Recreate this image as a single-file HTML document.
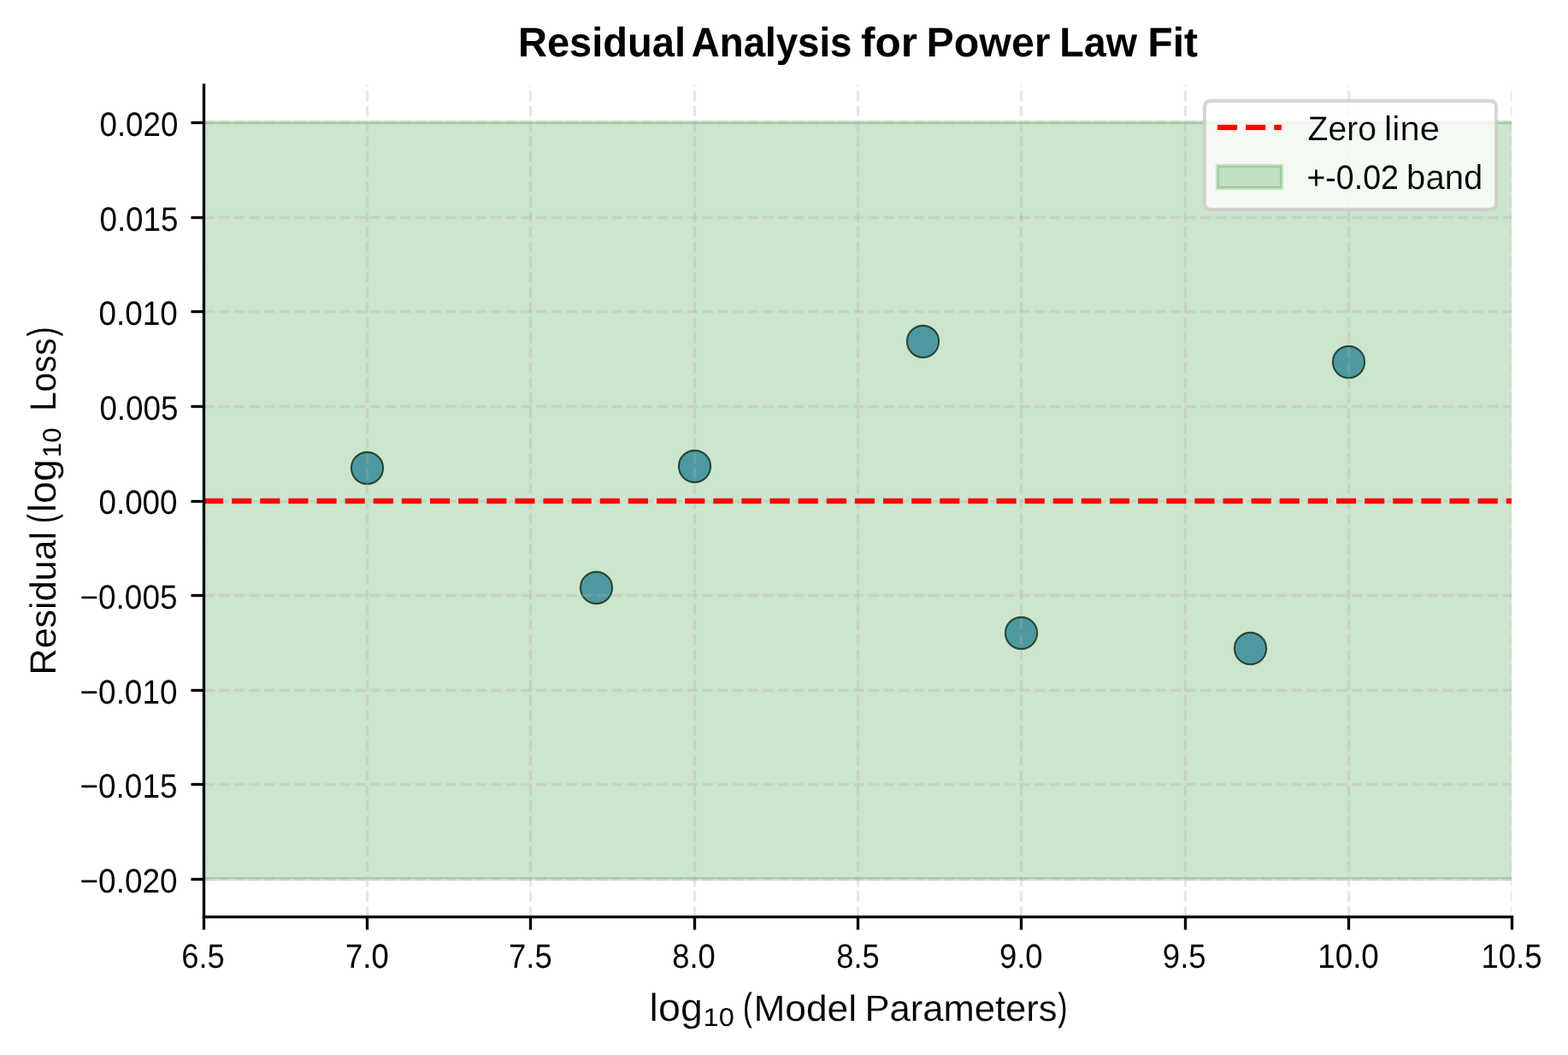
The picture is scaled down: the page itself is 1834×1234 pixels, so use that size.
<!DOCTYPE html>
<html lang="en">
<head>
<meta charset="utf-8">
<title>Residual Analysis for Power Law Fit</title>
<style>
html,body{margin:0;padding:0;background:#fff}
body{width:1834px;height:1234px;overflow:hidden}
svg{display:block}
text{font-family:"Liberation Sans",sans-serif;font-size:100px;font-kerning:none;text-rendering:geometricPrecision;fill:#000;white-space:pre;stroke-linejoin:round}
.grid{fill:none;stroke:#b0b0b0;stroke-opacity:.3;stroke-width:3.3333;stroke-dasharray:12.3333 5.3333}
.pt{fill:#1f76b4;fill-opacity:.7;stroke:#000;stroke-opacity:.7;stroke-width:2.0833}
.zero{fill:#f00}
.band{fill:#007c00;fill-opacity:.2;stroke:#007c00;stroke-opacity:.2;stroke-width:4.1667}
</style>
</head>
<body>
<svg width="1834" height="1234" viewBox="0 0 1834 1234" role="img" aria-label="Residual Analysis for Power Law Fit">
<defs><clipPath id="axclip"><rect x="238" y="99" width="1530" height="973"/></clipPath></defs>
<rect width="1834" height="1234" fill="#fff"/>
<g clip-path="url(#axclip)">
<g class="pt">
<circle cx="429.5" cy="547.5" r="18.6339"/>
<circle cx="697.5" cy="687.5" r="18.6339"/>
<circle cx="812.5" cy="545.5" r="18.6339"/>
<circle cx="1079.5" cy="399.5" r="18.6339"/>
<circle cx="1194.5" cy="740.5" r="18.6339"/>
<circle cx="1462.5" cy="758.5" r="18.6339"/>
<circle cx="1577.5" cy="423.5" r="18.6339"/>
</g>
<rect class="band" x="-100" y="143" width="2034" height="885"/>
<g class="grid">
<path d="M238.5 1072.5 V99.5"/>
<path d="M429.5 1072.5 V99.5"/>
<path d="M620.5 1072.5 V99.5"/>
<path d="M812.5 1072.5 V99.5"/>
<path d="M1003.5 1072.5 V99.5"/>
<path d="M1194.5 1072.5 V99.5"/>
<path d="M1386.5 1072.5 V99.5"/>
<path d="M1577.5 1072.5 V99.5"/>
<path d="M1768.5 1072.5 V99.5"/>
<path d="M238.5 1028.5 H1768.5"/>
<path d="M238.5 917.5 H1768.5"/>
<path d="M238.5 807.5 H1768.5"/>
<path d="M238.5 696.5 H1768.5"/>
<path d="M238.5 586.5 H1768.5"/>
<path d="M238.5 475.5 H1768.5"/>
<path d="M238.5 364.5 H1768.5"/>
<path d="M238.5 254.5 H1768.5"/>
<path d="M238.5 143.5 H1768.5"/>
</g>
<g class="zero">
<rect x="238" y="582.875" width="23.125" height="6.25"/>
<rect x="271.125" y="582.875" width="23.125" height="6.25"/>
<rect x="304.25" y="582.875" width="23.125" height="6.25"/>
<rect x="337.375" y="582.875" width="23.125" height="6.25"/>
<rect x="370.5" y="582.875" width="23.125" height="6.25"/>
<rect x="403.625" y="582.875" width="23.125" height="6.25"/>
<rect x="436.75" y="582.875" width="23.125" height="6.25"/>
<rect x="469.875" y="582.875" width="23.125" height="6.25"/>
<rect x="503" y="582.875" width="23.125" height="6.25"/>
<rect x="536.125" y="582.875" width="23.125" height="6.25"/>
<rect x="569.25" y="582.875" width="23.125" height="6.25"/>
<rect x="602.375" y="582.875" width="23.125" height="6.25"/>
<rect x="635.5" y="582.875" width="23.125" height="6.25"/>
<rect x="668.625" y="582.875" width="23.125" height="6.25"/>
<rect x="701.75" y="582.875" width="23.125" height="6.25"/>
<rect x="734.875" y="582.875" width="23.125" height="6.25"/>
<rect x="768" y="582.875" width="23.125" height="6.25"/>
<rect x="801.125" y="582.875" width="23.125" height="6.25"/>
<rect x="834.25" y="582.875" width="23.125" height="6.25"/>
<rect x="867.375" y="582.875" width="23.125" height="6.25"/>
<rect x="900.5" y="582.875" width="23.125" height="6.25"/>
<rect x="933.625" y="582.875" width="23.125" height="6.25"/>
<rect x="966.75" y="582.875" width="23.125" height="6.25"/>
<rect x="999.875" y="582.875" width="23.125" height="6.25"/>
<rect x="1033" y="582.875" width="23.125" height="6.25"/>
<rect x="1066.125" y="582.875" width="23.125" height="6.25"/>
<rect x="1099.25" y="582.875" width="23.125" height="6.25"/>
<rect x="1132.375" y="582.875" width="23.125" height="6.25"/>
<rect x="1165.5" y="582.875" width="23.125" height="6.25"/>
<rect x="1198.625" y="582.875" width="23.125" height="6.25"/>
<rect x="1231.75" y="582.875" width="23.125" height="6.25"/>
<rect x="1264.875" y="582.875" width="23.125" height="6.25"/>
<rect x="1298" y="582.875" width="23.125" height="6.25"/>
<rect x="1331.125" y="582.875" width="23.125" height="6.25"/>
<rect x="1364.25" y="582.875" width="23.125" height="6.25"/>
<rect x="1397.375" y="582.875" width="23.125" height="6.25"/>
<rect x="1430.5" y="582.875" width="23.125" height="6.25"/>
<rect x="1463.625" y="582.875" width="23.125" height="6.25"/>
<rect x="1496.75" y="582.875" width="23.125" height="6.25"/>
<rect x="1529.875" y="582.875" width="23.125" height="6.25"/>
<rect x="1563" y="582.875" width="23.125" height="6.25"/>
<rect x="1596.125" y="582.875" width="23.125" height="6.25"/>
<rect x="1629.25" y="582.875" width="23.125" height="6.25"/>
<rect x="1662.375" y="582.875" width="23.125" height="6.25"/>
<rect x="1695.5" y="582.875" width="23.125" height="6.25"/>
<rect x="1728.625" y="582.875" width="23.125" height="6.25"/>
<rect x="1761.75" y="582.875" width="6.75" height="6.25"/>
</g>
</g>
<g id="axes" fill="#000">
<rect x="236.8333" y="1072.5" width="3.3333" height="15"/>
<rect x="427.8333" y="1072.5" width="3.3333" height="15"/>
<rect x="618.8333" y="1072.5" width="3.3333" height="15"/>
<rect x="810.8333" y="1072.5" width="3.3333" height="15"/>
<rect x="1001.8333" y="1072.5" width="3.3333" height="15"/>
<rect x="1192.8333" y="1072.5" width="3.3333" height="15"/>
<rect x="1384.8333" y="1072.5" width="3.3333" height="15"/>
<rect x="1575.8333" y="1072.5" width="3.3333" height="15"/>
<rect x="1766.8333" y="1072.5" width="3.3333" height="15"/>
<rect x="223.5" y="141.8333" width="15" height="3.3333"/>
<rect x="223.5" y="252.8333" width="15" height="3.3333"/>
<rect x="223.5" y="362.8333" width="15" height="3.3333"/>
<rect x="223.5" y="473.8333" width="15" height="3.3333"/>
<rect x="223.5" y="584.8333" width="15" height="3.3333"/>
<rect x="223.5" y="694.8333" width="15" height="3.3333"/>
<rect x="223.5" y="805.8333" width="15" height="3.3333"/>
<rect x="223.5" y="915.8333" width="15" height="3.3333"/>
<rect x="223.5" y="1026.8333" width="15" height="3.3333"/>
<rect x="236.8333" y="97.8333" width="3.3333" height="976.3333"/>
<rect x="236.8333" y="1070.8333" width="1533.3333" height="3.3333"/>
</g>
<g id="title">
<text font-weight="700" transform="matrix(0.4706 0 0 0.4836 605.9061 66)">Residual</text>
<text font-weight="700" stroke="#000" stroke-width="0.27" transform="matrix(0.4561 0 0 0.4836 808.8496 66)">Analysis</text>
<text font-weight="700" transform="matrix(0.4946 0 0 0.4836 1006.9763 66)">for</text>
<text font-weight="700" stroke="#fff" stroke-width="0.2" transform="matrix(0.4834 0 0 0.4836 1083.5383 66)">Power</text>
<text font-weight="700" stroke="#000" stroke-width="0.06" transform="matrix(0.4664 0 0 0.4836 1239.316 66)">Law</text>
<text font-weight="700" stroke="#000" stroke-width="0.25" transform="matrix(0.4779 0 0 0.4836 1342.617 66)">Fit</text>
</g>
<g id="xticklabels">
<text stroke="#fff" stroke-width="0.12" transform="matrix(0.3629 0 0 0.3962 212.2341 1132)">6.5</text>
<text stroke="#000" stroke-width="0.26" transform="matrix(0.3639 0 0 0.3962 404.1117 1132)">7.0</text>
<text stroke="#000" stroke-width="0.07" transform="matrix(0.364 0 0 0.3962 595.0646 1132)">7.5</text>
<text transform="matrix(0.3636 0 0 0.3962 786.288 1132)">8.0</text>
<text stroke="#fff" stroke-width="0.1" transform="matrix(0.3631 0 0 0.3962 978.195 1132)">8.5</text>
<text stroke="#fff" stroke-width="0.07" transform="matrix(0.3647 0 0 0.3962 1168.9452 1132)">9.0</text>
<text stroke="#fff" stroke-width="0.21" transform="matrix(0.3658 0 0 0.3962 1359.8163 1132)">9.5</text>
<text stroke="#000" stroke-width="0.05" transform="matrix(0.3667 0 0 0.3962 1541.3609 1132)">10.0</text>
<text stroke="#fff" stroke-width="0.07" transform="matrix(0.3661 0 0 0.3962 1732.4003 1132)">10.5</text>
</g>
<g id="yticklabels">
<text stroke="#fff" stroke-width="0.06" transform="matrix(0.3675 0 0 0.3962 116.4646 159)">0.020</text>
<text stroke="#fff" stroke-width="0.07" transform="matrix(0.3683 0 0 0.3962 116.4004 270)">0.015</text>
<text transform="matrix(0.3686 0 0 0.3962 115.4135 380)">0.010</text>
<text stroke="#fff" stroke-width="0.09" transform="matrix(0.3683 0 0 0.3962 116.3789 491)">0.005</text>
<text stroke="#fff" stroke-width="0.05" transform="matrix(0.3681 0 0 0.3962 115.4408 601)">0.000</text>
<text stroke="#fff" stroke-width="0.16" transform="matrix(0.3697 0 0 0.3962 93.4308 712)">−0.005</text>
<text stroke="#fff" stroke-width="0.07" transform="matrix(0.3688 0 0 0.3962 93.5799 823)">−0.010</text>
<text stroke="#fff" stroke-width="0.13" transform="matrix(0.3696 0 0 0.3962 93.4358 933)">−0.015</text>
<text stroke="#fff" stroke-width="0.09" transform="matrix(0.3689 0 0 0.3962 93.5765 1044)">−0.020</text>
</g>
<g id="xlabel">
<text stroke="#fff" stroke-width="0.54" transform="matrix(0.4667 0 0 0.4554 759.5904 1194)">log</text>
<text stroke="#fff" stroke-width="0.06" transform="matrix(0.3255 0 0 0.3 822.5834 1200)">10</text>
<text stroke="#000" stroke-width="0.77" transform="matrix(0.3098 0 0 0.4506 869.178 1193)">(</text>
<text stroke="#fff" stroke-width="0.35" transform="matrix(0.443 0 0 0.4267 881.431 1194)">Model</text>
<text stroke="#fff" stroke-width="0.35" transform="matrix(0.4353 0 0 0.4267 1011.5594 1194)">Parameters</text>
<text stroke="#000" stroke-width="0.76" transform="matrix(0.3113 0 0 0.4506 1237.7063 1193)">)</text>
</g>
<g id="ylabel">
<text stroke="#fff" stroke-width="0.3" transform="matrix(0 -0.43 0.4267 0 65 789.379)">Residual</text>
<text stroke="#000" stroke-width="0.74" transform="matrix(0 -0.3082 0.4506 0 64 611.8241)">(</text>
<text stroke="#fff" stroke-width="0.54" transform="matrix(0 -0.4669 0.4554 0 65 599.37)">log</text>
<text stroke="#000" stroke-width="0.06" transform="matrix(0 -0.3139 0.3 0 71 535.2833)">10</text>
<text stroke="#fff" stroke-width="0.23" transform="matrix(0 -0.4058 0.4267 0 65 481.1249)">Loss</text>
<text stroke="#000" stroke-width="0.58" transform="matrix(0 -0.3092 0.4506 0 64 393.2339)">)</text>
</g>
<g id="legend">
<path fill="#fff" fill-opacity=".78" stroke="#ccc" stroke-opacity=".8" stroke-width="4.1667" d="M1416.5 245 H1742.5 Q1750 245 1750 237.5 V125.5 Q1750 118 1742.5 118 H1416.5 Q1409 118 1409 125.5 V237.5 Q1409 245 1416.5 245 Z"/>
<g class="zero">
<rect x="1424" y="145.875" width="23.125" height="6.25"/>
<rect x="1457.125" y="145.875" width="23.125" height="6.25"/>
<rect x="1490.25" y="145.875" width="8.75" height="6.25"/>
</g>
<rect class="band" x="1424" y="194" width="75" height="26"/>
<g id="legendtext">
<text stroke="#f7faf7" stroke-width="0.52" transform="matrix(0.3902 0 0 0.4 1529.6067 164)">Zero</text>
<text stroke="#f7faf7" stroke-width="0.58" transform="matrix(0.4171 0 0 0.4 1618.9207 164)">line</text>
<text stroke="#f4f9f4" stroke-width="0.11" transform="matrix(0.3756 0 0 0.3962 1528.4258 221)">+-0.02</text>
<text stroke="#f4f9f4" stroke-width="0.5" transform="matrix(0.4011 0 0 0.4 1645.0897 221)">band</text>
</g>
</g>
</svg>
</body>
</html>
